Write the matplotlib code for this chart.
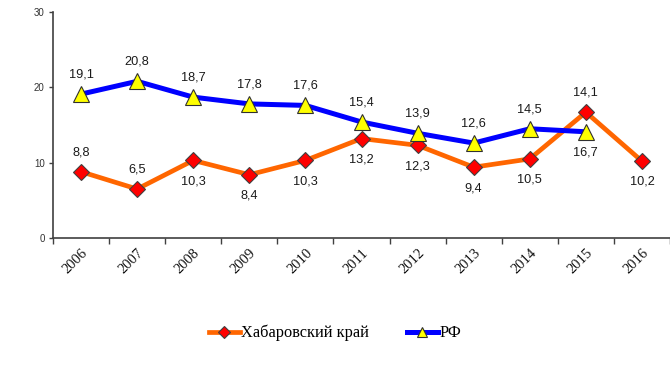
import matplotlib
matplotlib.use("Agg")
import matplotlib.pyplot as plt
import numpy as np

years = ["2006", "2007", "2008", "2009", "2010", "2011", "2012", "2013", "2014", "2015", "2016"]
khab = [8.8, 6.5, 10.3, 8.4, 10.3, 13.2, 12.3, 9.4, 10.5, 16.7, 10.2]
rf = [19.1, 20.8, 18.7, 17.8, 17.6, 15.4, 13.9, 12.6, 14.5, 14.1]
# label texts as printed on the chart (2015 labels appear swapped in the original)
khab_labels = ["8,8", "6,5", "10,3", "8,4", "10,3", "13,2", "12,3", "9,4", "10,5", "14,1", "10,2"]
rf_labels = ["19,1", "20,8", "18,7", "17,8", "17,6", "15,4", "13,9", "12,6", "14,5", "16,7"]
khab_above = [True, True, False, False, False, False, False, False, False, True, False]
rf_above = [True, True, True, True, True, True, True, True, True, False]

fig = plt.figure(figsize=(6.7, 3.87), dpi=100)
ax = fig.add_axes([53/670, 1-238/387, 1-53/670, (238-12)/387])

x_k = np.arange(len(khab))
x_r = np.arange(len(rf))

ax.plot(x_k, khab, color="#FF6600", lw=3.4, marker="D", ms=8.5,
        markerfacecolor="#FF0000", markeredgecolor="#404040", markeredgewidth=0.8,
        label="Хабаровский край", zorder=3)
ax.plot(x_r, rf, color="#0000FF", lw=3.6, marker="^", ms=11,
        markerfacecolor="#FFFF00", markeredgecolor="#303030", markeredgewidth=0.8,
        label="РФ", zorder=4)

lab_font = dict(family=["Liberation Sans", "DejaVu Sans"], size=9.2, color="#1a1a1a")
for xi, v, t, up in zip(x_k, khab, khab_labels, khab_above):
    ax.annotate(t, (xi, v), xytext=(0, 14 if up else -15), textcoords="offset points",
                ha="center", va="center", **lab_font)
for xi, v, t, up in zip(x_r, rf, rf_labels, rf_above):
    ax.annotate(t, (xi, v), xytext=(0, 14 if up else -15), textcoords="offset points",
                ha="center", va="center", **lab_font)

ax.set_xlim(-0.5, len(years) - 0.5)
ax.set_ylim(0, 30)
ax.set_yticks([0, 10, 20, 30])
ax.set_xticks(x_k)
ax.set_xticklabels(years, rotation=45, ha="right", va="top", rotation_mode="anchor",
                   family=["Liberation Serif", "DejaVu Serif"], size=10.5, color="#111111")
ax.set_xticks(np.arange(-0.5, len(years)), minor=True)
ax.tick_params(axis="x", which="major", length=0, pad=6)
ax.tick_params(axis="x", which="minor", length=4, width=1, color="#404040", direction="out")
ax.tick_params(axis="y", length=3, width=1, color="#404040", direction="out", pad=3,
               labelsize=7, labelcolor="#333333")
for lbl in ax.get_yticklabels():
    lbl.set_family(["Liberation Sans", "DejaVu Sans"])

for s in ["top", "right"]:
    ax.spines[s].set_visible(False)
for s in ["left", "bottom"]:
    ax.spines[s].set_color("#404040")
    ax.spines[s].set_linewidth(1.2)

leg = fig.legend(loc="center", bbox_to_anchor=(335/670, 1-333/387), ncol=2, frameon=False,
                 prop=dict(family=["Liberation Serif", "DejaVu Serif"], size=11.8),
                 handlelength=1.9, handletextpad=0.1, columnspacing=2.3, markerscale=0.7)

fig.savefig("out.png", dpi=100)
